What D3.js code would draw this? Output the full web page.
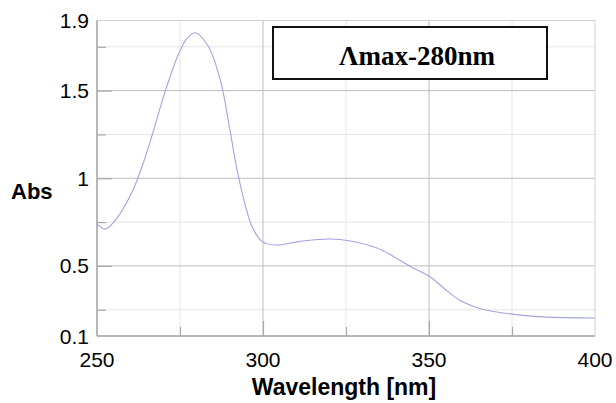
<!doctype html>
<html>
  <head>
    <meta charset="utf-8">
    <title>Abs spectrum</title>
    <style>
      * { margin: 0; padding: 0; }
      body { background: #fff; }
      svg { display: block; }
    </style>
    <script src="https://d3js.org/d3.v7.min.js"></script>
  </head>
  <body>
    <script>
      // wavelength (nm) and absorbance
      const wavelength = [250, 252.5, 255.5, 258, 261, 264, 267, 270.6, 274.6, 277, 279.6, 283.6, 287.4, 290.2, 292.6, 296.7, 299.7, 303.7, 311.2, 320.3, 326.3, 334.3, 339.3, 344.4, 350.4, 354.4, 359.4, 365.5, 374.5, 384.5, 400];
      const absorbance = [0.74, 0.71, 0.76, 0.83, 0.94, 1.09, 1.27, 1.5, 1.71, 1.795, 1.83, 1.75, 1.54, 1.257, 1.01, 0.725, 0.64, 0.619, 0.64, 0.653, 0.642, 0.602, 0.554, 0.497, 0.437, 0.374, 0.302, 0.256, 0.226, 0.209, 0.203];

      const xMajor = [250, 300, 350, 400];
      const xMinor = [275, 325, 375];
      const yMajor = [0.1, 0.5, 1, 1.5, 1.9];
      const yMinor = [0.25, 0.75, 1.25, 1.75];
      const yLabels = ["0.1", "0.5", "1", "1.5", "1.9"];

      const W = 616, H = 403;
      const L = 97, R = 595, T = 20.5, B = 336;

      const svg = d3.select("body").append("svg").attr("width", W).attr("height", H);

      const x = d3.scaleLinear().domain([250, 400]).range([L, R]);
      const y = d3.scaleLinear().domain([0.1, 1.9]).range([B, T]);

      // minor grid
      svg.selectAll(".gxm").data(xMinor).enter().append("line")
        .attr("x1", d => x(d)).attr("x2", d => x(d)).attr("y1", T).attr("y2", B)
        .style("stroke", "#e6e6e6").style("stroke-width", 1);
      svg.selectAll(".gym").data(yMinor).enter().append("line")
        .attr("x1", L).attr("x2", R).attr("y1", d => y(d)).attr("y2", d => y(d))
        .style("stroke", "#e6e6e6").style("stroke-width", 1);
      // major grid
      svg.selectAll(".gx").data(xMajor.slice(1, 3)).enter().append("line")
        .attr("x1", d => x(d)).attr("x2", d => x(d)).attr("y1", T).attr("y2", B)
        .style("stroke", "#bdbdbd").style("stroke-width", 1);
      svg.selectAll(".gy").data(yMajor.slice(1, 4)).enter().append("line")
        .attr("x1", L).attr("x2", R).attr("y1", d => y(d)).attr("y2", d => y(d))
        .style("stroke", "#bdbdbd").style("stroke-width", 1);

      // frame
      svg.append("rect").attr("x", L).attr("y", T).attr("width", R - L).attr("height", B - T)
        .style("fill", "none").style("stroke", "#d0d0d0").style("stroke-width", 1);
      svg.append("line").attr("x1", L).attr("x2", L).attr("y1", T).attr("y2", B)
        .style("stroke", "#a8a8a8").style("stroke-width", 1.5);
      svg.append("line").attr("x1", L).attr("x2", R).attr("y1", B).attr("y2", B)
        .style("stroke", "#a8a8a8").style("stroke-width", 1.5);

      // inner ticks
      const xAxis = d3.axisTop(x).tickValues(xMajor.slice(1, 3)).tickSize(15).tickFormat("");
      const xAxisMinor = d3.axisTop(x).tickValues(xMinor).tickSize(9).tickFormat("");
      const yAxis = d3.axisRight(y).tickValues(yMajor.slice(1, 4)).tickSize(15).tickFormat("");
      const yAxisMinor = d3.axisRight(y).tickValues(yMinor).tickSize(9).tickFormat("");
      [[xAxis, "translate(0," + B + ")"], [xAxisMinor, "translate(0," + B + ")"],
       [yAxis, "translate(" + L + ",0)"], [yAxisMinor, "translate(" + L + ",0)"]].forEach(function (a) {
        const g = svg.append("g").attr("transform", a[1]).call(a[0]);
        g.select(".domain").remove();
        g.selectAll("line").style("stroke", "#a8a8a8").style("stroke-width", 1.2);
      });

      // curve
      const line = d3.line()
        .x((d, i) => x(wavelength[i]))
        .y(d => y(d))
        .curve(d3.curveCatmullRom.alpha(0.5));
      svg.append("path").datum(absorbance).attr("d", line)
        .style("fill", "none").style("stroke", "#a3a3e0").style("stroke-width", 1.1);

      // tick labels
      svg.selectAll(".xl").data(xMajor).enter().append("text")
        .attr("x", d => x(d)).attr("y", 366.5)
        .attr("text-anchor", "middle")
        .style("font-family", "Liberation Sans, Arial, sans-serif").style("font-size", "21px")
        .text(d => d);
      svg.selectAll(".yl").data(yMajor).enter().append("text")
        .attr("x", 89).attr("y", d => y(d) + 7.5)
        .attr("text-anchor", "end")
        .style("font-family", "Liberation Sans, Arial, sans-serif").style("font-size", "21px")
        .text((d, i) => yLabels[i]);

      // axis titles
      svg.append("text").attr("x", 344).attr("y", 395)
        .attr("text-anchor", "middle")
        .style("font-family", "Liberation Sans, Arial, sans-serif").style("font-size", "23px")
        .style("font-weight", "bold")
        .text("Wavelength [nm]");
      svg.append("text").attr("x", 11).attr("y", 199)
        .style("font-family", "Liberation Sans, Arial, sans-serif").style("font-size", "22px")
        .style("font-weight", "bold")
        .text("Abs");

      // annotation box
      svg.append("rect").attr("x", 273).attr("y", 27).attr("width", 274).attr("height", 52)
        .style("fill", "#fff").style("stroke", "#111").style("stroke-width", 2);
      svg.append("text").attr("x", 417).attr("y", 65)
        .attr("text-anchor", "middle")
        .style("font-family", "Liberation Serif, Times New Roman, serif").style("font-size", "27px")
        .style("font-weight", "bold")
        .text("Λmax-280nm");
    </script>
  </body>
</html>
